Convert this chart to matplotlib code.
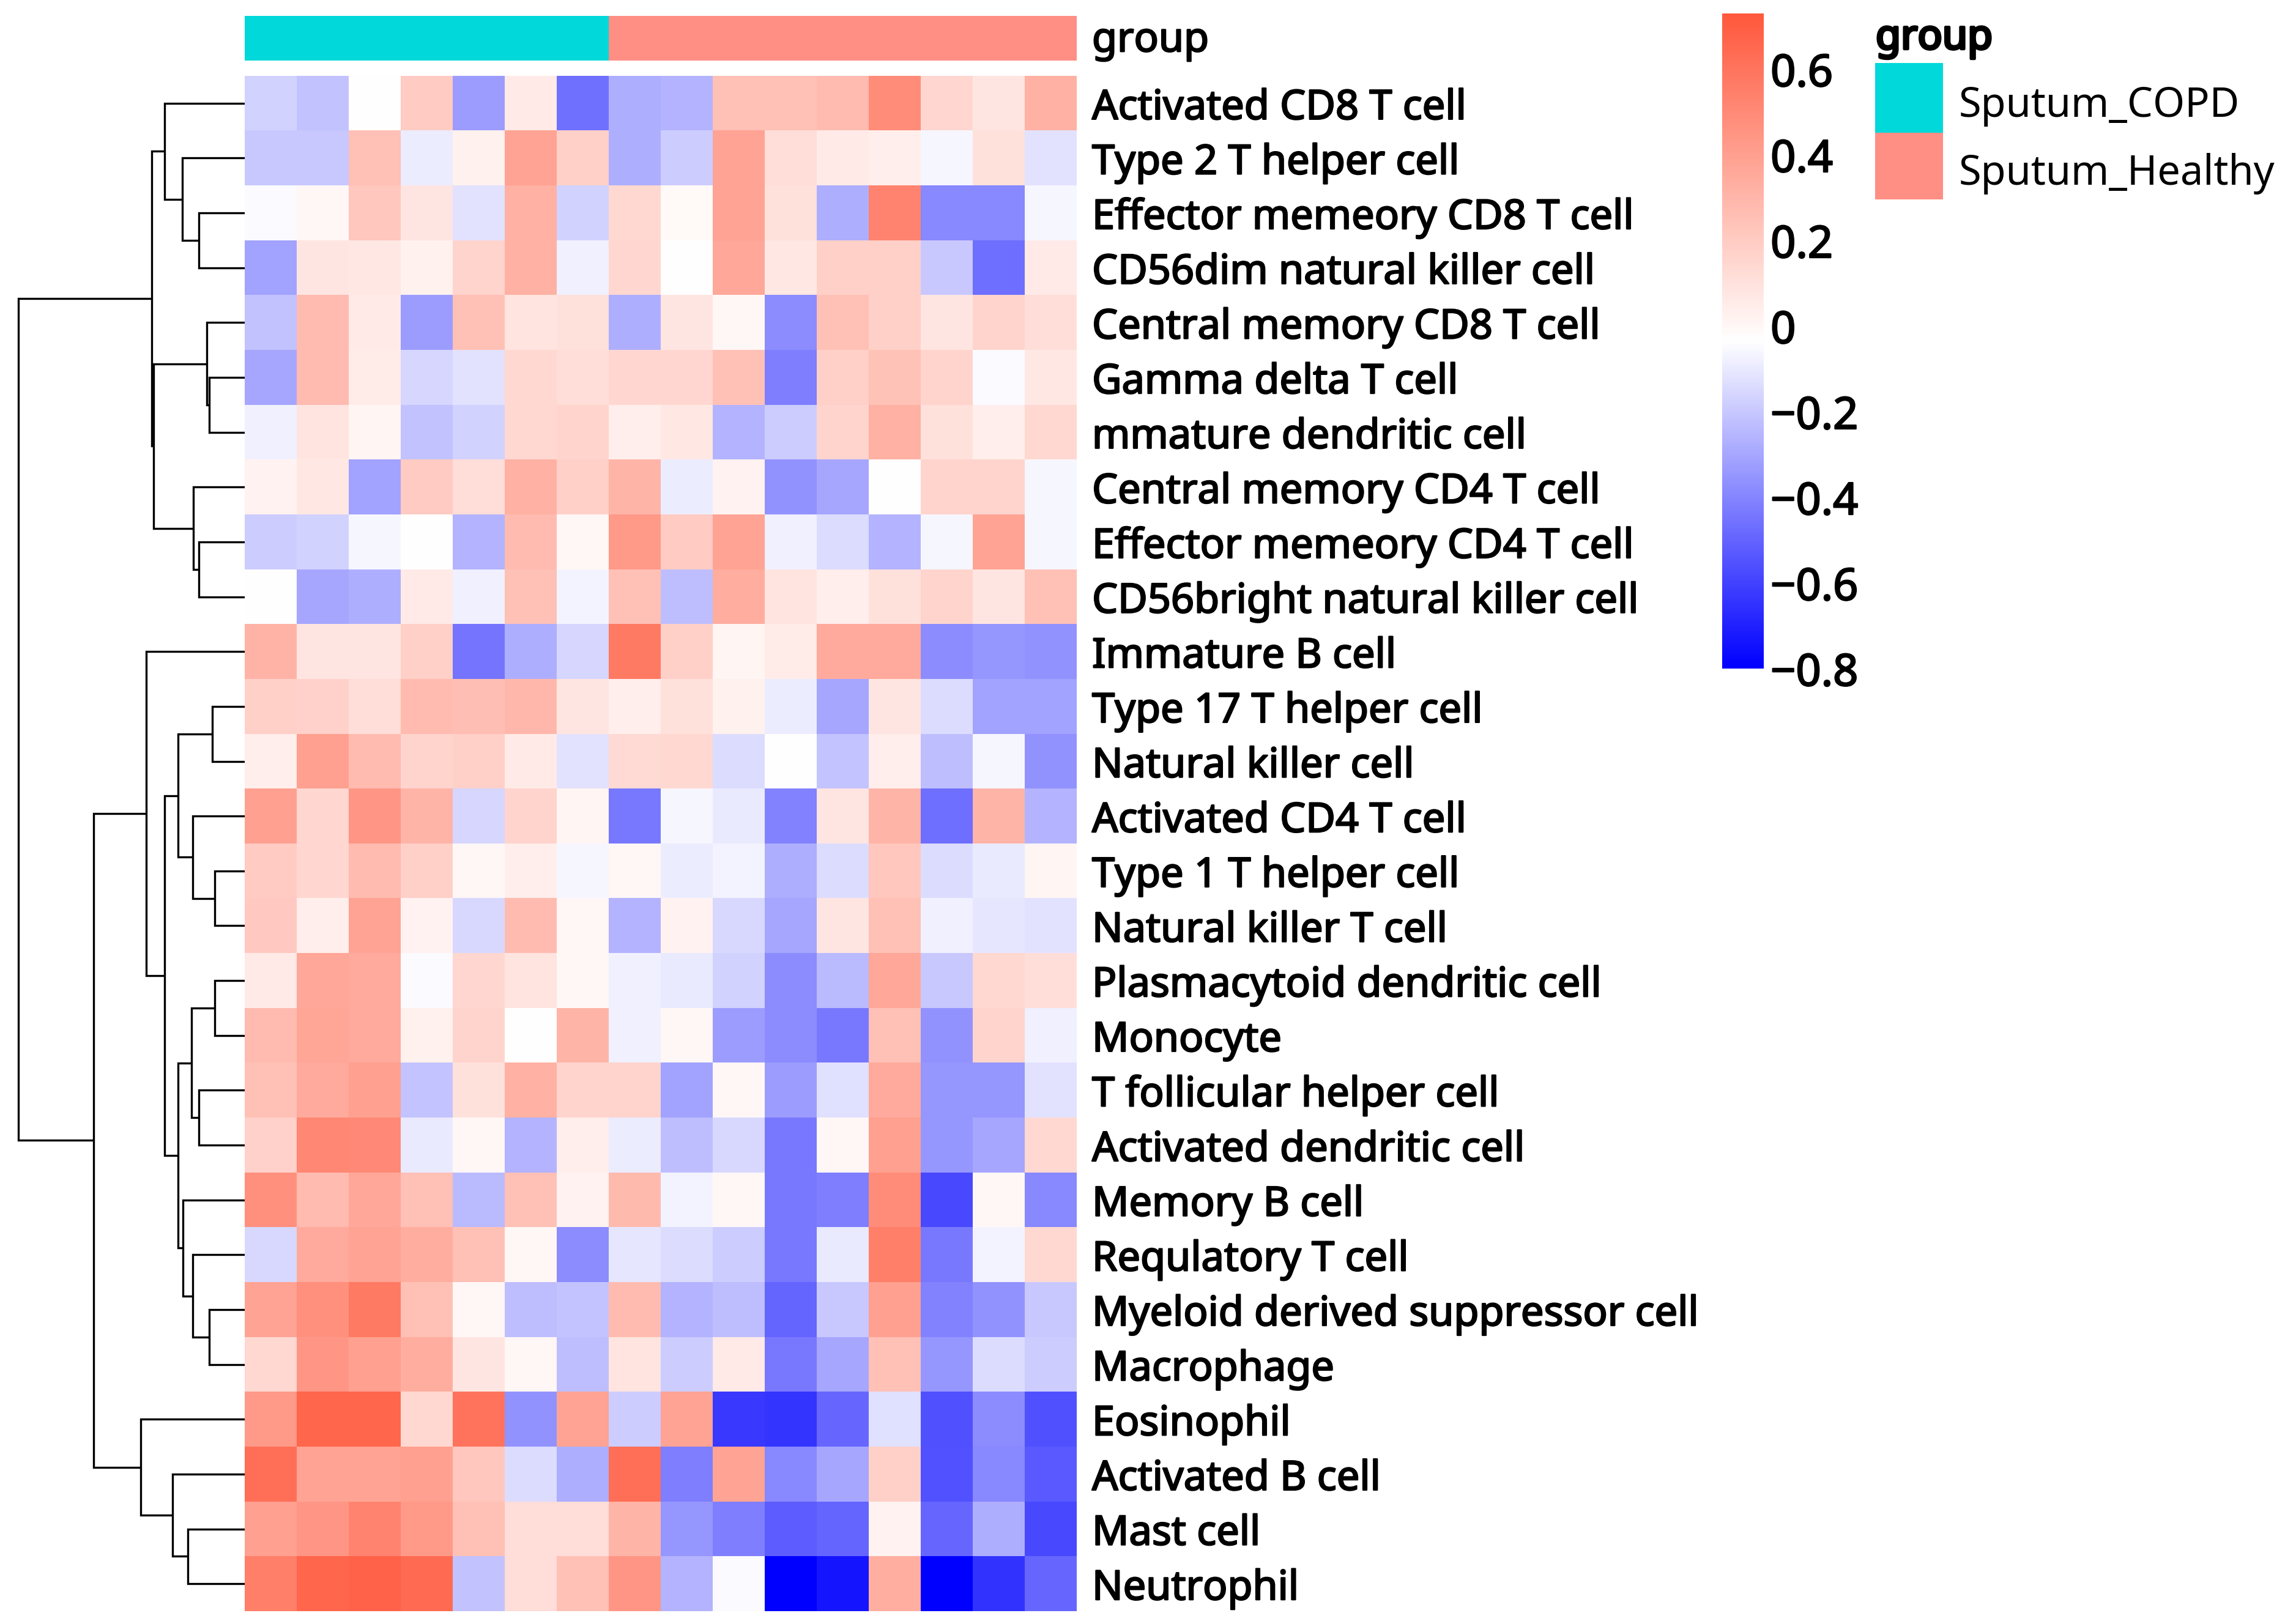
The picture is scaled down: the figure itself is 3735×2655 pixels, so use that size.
import matplotlib
matplotlib.use("Agg")
import matplotlib.pyplot as plt
import matplotlib.patheffects as pe
import numpy as np
from matplotlib.colors import LinearSegmentedColormap, ListedColormap, Normalize
from matplotlib.cm import ScalarMappable
from matplotlib.patches import Rectangle

plt.rcParams['font.family'] = ['Noto Sans', 'DejaVu Sans']

# rows in the order shown (top to bottom)
cell_types = [
    "Activated CD8 T cell", "Type 2 T helper cell", "Effector memeory CD8 T cell",
    "CD56dim natural killer cell", "Central memory CD8 T cell", "Gamma delta T cell",
    "mmature dendritic cell", "Central memory CD4 T cell", "Effector memeory CD4 T cell",
    "CD56bright natural killer cell", "Immature B cell", "Type 17 T helper cell",
    "Natural killer cell", "Activated CD4 T cell", "Type 1 T helper cell",
    "Natural killer T cell", "Plasmacytoid dendritic cell", "Monocyte",
    "T follicular helper cell", "Activated dendritic cell", "Memory B cell",
    "Requlatory T cell", "Myeloid derived suppressor cell", "Macrophage",
    "Eosinophil", "Activated B cell", "Mast cell", "Neutrophil",
]

# sample groups (columns)
groups = ["Sputum_COPD"] * 7 + ["Sputum_Healthy"] * 9
group_names = ["Sputum_COPD", "Sputum_Healthy"]
group_colors = ["#00D8DA", "#FF8E84"]

# scaled scores, one row per cell type, one value per sample
scores = [
    [-0.17, -0.22, -0.04, 0.20, -0.33, 0.06, -0.46, -0.28, -0.26, 0.25, 0.25, 0.27, 0.49, 0.15, 0.08, 0.32],
    [-0.20, -0.20, 0.25, -0.09, 0.03, 0.38, 0.18, -0.28, -0.19, 0.38, 0.12, 0.06, 0.04, -0.06, 0.10, -0.12],
    [-0.05, 0.00, 0.22, 0.08, -0.12, 0.32, -0.17, 0.14, -0.01, 0.38, 0.10, -0.28, 0.53, -0.39, -0.39, -0.06],
    [-0.31, 0.08, 0.07, 0.03, 0.16, 0.32, -0.08, 0.15, -0.04, 0.36, 0.07, 0.18, 0.18, -0.20, -0.47, 0.06],
    [-0.22, 0.27, 0.06, -0.33, 0.25, 0.09, 0.10, -0.28, 0.08, 0.00, -0.38, 0.25, 0.18, 0.08, 0.16, 0.11],
    [-0.30, 0.27, 0.05, -0.16, -0.12, 0.14, 0.11, 0.15, 0.15, 0.25, -0.42, 0.18, 0.24, 0.16, -0.05, 0.07],
    [-0.08, 0.09, 0.01, -0.22, -0.17, 0.14, 0.16, 0.04, 0.07, -0.26, -0.19, 0.16, 0.32, 0.10, 0.04, 0.14],
    [0.02, 0.07, -0.31, 0.20, 0.12, 0.32, 0.18, 0.30, -0.09, 0.02, -0.36, -0.30, -0.04, 0.16, 0.16, -0.06],
    [-0.19, -0.17, -0.06, -0.04, -0.26, 0.27, 0.00, 0.43, 0.20, 0.38, -0.08, -0.14, -0.26, -0.06, 0.38, -0.06],
    [-0.04, -0.30, -0.28, 0.06, -0.08, 0.25, -0.07, 0.25, -0.23, 0.34, 0.09, 0.04, 0.10, 0.16, 0.08, 0.25],
    [0.31, 0.08, 0.08, 0.18, -0.45, -0.28, -0.16, 0.57, 0.18, 0.01, 0.05, 0.35, 0.35, -0.38, -0.35, -0.36],
    [0.18, 0.17, 0.12, 0.27, 0.26, 0.29, 0.08, 0.04, 0.10, 0.03, -0.09, -0.30, 0.08, -0.14, -0.31, -0.31],
    [0.04, 0.40, 0.27, 0.16, 0.18, 0.06, -0.12, 0.13, 0.14, -0.14, -0.04, -0.21, 0.04, -0.23, -0.06, -0.36],
    [0.40, 0.15, 0.44, 0.30, -0.16, 0.16, 0.01, -0.44, -0.06, -0.10, -0.41, 0.08, 0.30, -0.47, 0.30, -0.26],
    [0.20, 0.15, 0.27, 0.18, 0.00, 0.04, -0.06, 0.00, -0.09, -0.07, -0.28, -0.14, 0.22, -0.14, -0.10, 0.01],
    [0.21, 0.04, 0.38, 0.02, -0.15, 0.27, 0.00, -0.26, 0.02, -0.15, -0.30, 0.08, 0.25, -0.08, -0.11, -0.12],
    [0.06, 0.36, 0.35, -0.05, 0.15, 0.09, 0.00, -0.08, -0.10, -0.17, -0.38, -0.24, 0.36, -0.20, 0.14, 0.11],
    [0.27, 0.37, 0.35, 0.03, 0.16, -0.04, 0.30, -0.08, 0.00, -0.33, -0.38, -0.44, 0.25, -0.36, 0.16, -0.08],
    [0.25, 0.35, 0.40, -0.21, 0.10, 0.32, 0.16, 0.16, -0.31, 0.00, -0.33, -0.13, 0.35, -0.35, -0.35, -0.12],
    [0.17, 0.51, 0.50, -0.10, 0.00, -0.26, 0.04, -0.09, -0.23, -0.15, -0.44, 0.00, 0.40, -0.35, -0.30, 0.14],
    [0.47, 0.27, 0.36, 0.25, -0.24, 0.25, 0.02, 0.28, -0.07, 0.00, -0.44, -0.42, 0.49, -0.58, 0.00, -0.39],
    [-0.15, 0.35, 0.38, 0.34, 0.25, 0.00, -0.38, -0.11, -0.14, -0.19, -0.44, -0.10, 0.55, -0.44, -0.07, 0.14],
    [0.38, 0.47, 0.57, 0.25, 0.00, -0.23, -0.21, 0.27, -0.26, -0.23, -0.50, -0.20, 0.40, -0.41, -0.36, -0.20],
    [0.14, 0.44, 0.40, 0.34, 0.08, 0.00, -0.23, 0.09, -0.19, 0.06, -0.44, -0.30, 0.25, -0.35, -0.14, -0.19],
    [0.43, 0.66, 0.66, 0.14, 0.60, -0.36, 0.38, -0.19, 0.38, -0.63, -0.64, -0.49, -0.13, -0.56, -0.38, -0.56],
    [0.62, 0.38, 0.38, 0.40, 0.22, -0.14, -0.28, 0.62, -0.42, 0.38, -0.39, -0.30, 0.18, -0.55, -0.39, -0.53],
    [0.40, 0.44, 0.53, 0.43, 0.25, 0.12, 0.12, 0.30, -0.35, -0.42, -0.52, -0.50, 0.02, -0.49, -0.28, -0.58],
    [0.55, 0.66, 0.68, 0.64, -0.22, 0.12, 0.25, 0.44, -0.26, -0.05, -0.80, -0.74, 0.33, -0.80, -0.65, -0.49],
]

# row clustering: (left, right, height); leaves are row indices, new nodes get 28, 29, ...
merges = [
    (2, 3, 75), (1, 28, 102), (0, 29, 131),
    (5, 6, 58), (4, 31, 62), (8, 9, 75), (7, 33, 84), (32, 34, 149), (30, 35, 152),
    (11, 12, 53), (14, 15, 49), (13, 38, 85), (37, 39, 109),
    (16, 17, 49), (18, 19, 75), (41, 42, 87),
    (22, 23, 58), (21, 44, 85), (20, 45, 101), (43, 46, 109),
    (40, 47, 131), (10, 48, 161),
    (26, 27, 93), (25, 50, 118), (24, 51, 170),
    (49, 52, 247), (36, 53, 370),
]

cbar_ticks = [0.6, 0.4, 0.2, 0, -0.2, -0.4, -0.6, -0.8]
cbar_labels = ["0.6", "0.4", "0.2", "0", "\u22120.2", "\u22120.4", "\u22120.6", "\u22120.8"]

W, H = 3735, 2655


def box(x0, y0, x1, y1):
    # pixel box (top-left origin) -> figure fraction rect
    return [x0 / W, 1 - y1 / H, (x1 - x0) / W, (y1 - y0) / H]


# thicken the regular face a little, the original text is medium weight
heavy = [pe.withStroke(linewidth=1.7, foreground='black')]
heavier = [pe.withStroke(linewidth=3.2, foreground='black')]

data = np.array(scores)
n_rows, n_cols = data.shape

cmap = LinearSegmentedColormap.from_list("bwr_custom", ["#0000FF", "#FFFFFF", "#FF583C"])
norm = Normalize(vmin=-0.8, vmax=0.73)

fig = plt.figure(figsize=(W / 100, H / 100), dpi=100)

# heatmap
ax = fig.add_axes(box(400, 124, 1760, 2634))
ax.imshow(data, cmap=cmap, norm=norm, aspect='auto', interpolation='nearest',
          extent=(0, n_cols, n_rows, 0))
ax.set_xlim(0, n_cols)
ax.set_ylim(n_rows, 0)
ax.set_xticks([])
ax.yaxis.tick_right()
ax.set_yticks(np.arange(n_rows) + 0.5)
ax.set_yticklabels(cell_types, fontsize=48)
for t in ax.get_yticklabels():
    t.set_path_effects(heavy)
ax.tick_params(axis='y', length=0, pad=18)
for s in ax.spines.values():
    s.set_visible(False)

# group annotation bar
ax_grp = fig.add_axes(box(400, 26, 1760, 99))
grp_idx = np.array([[group_names.index(g) for g in groups]])
ax_grp.imshow(grp_idx, cmap=ListedColormap(group_colors), aspect='auto',
              interpolation='nearest', extent=(0, n_cols, 1, 0), vmin=0, vmax=1)
ax_grp.set_xticks([])
ax_grp.set_yticks([])
for s in ax_grp.spines.values():
    s.set_visible(False)
ax_grp.text(1 + 25 / 1360, 0.45, "group", transform=ax_grp.transAxes, va='center',
            ha='left', fontsize=48, path_effects=heavy)

# row dendrogram
ax_den = fig.add_axes(box(0, 124, 400, 2634))
pos = {i: (i + 0.5, 0.0) for i in range(n_rows)}
for k, (a, b, h) in enumerate(merges):
    ya, ha = pos[a]
    yb, hb = pos[b]
    ax_den.plot([ha, h, h, hb], [ya, ya, yb, yb], color='black', lw=2.4,
                solid_capstyle='butt', solid_joinstyle='miter')
    pos[n_rows + k] = ((ya + yb) / 2, h)
ax_den.set_xlim(400, 0)
ax_den.set_ylim(n_rows, 0)
ax_den.axis('off')

# colour bar
cax = fig.add_axes(box(2815, 22, 2883, 1093))
cb = fig.colorbar(ScalarMappable(norm=norm, cmap=cmap), cax=cax, ticks=cbar_ticks)
cb.outline.set_visible(False)
cax.set_yticklabels(cbar_labels, fontsize=52)
for t in cax.get_yticklabels():
    t.set_path_effects(heavy)
cax.tick_params(length=0, pad=8)

# group legend
fig.text(3066 / W, 1 - 62 / H, "group", fontsize=48, va='center', ha='left',
         path_effects=heavier)
legend_boxes = [(103, 217), (217, 326)]
for name, col, (y0, y1) in zip(group_names, group_colors, legend_boxes):
    fig.patches.append(Rectangle((3065 / W, 1 - y1 / H), 111 / W, (y1 - y0) / H,
                                 transform=fig.transFigure, facecolor=col, edgecolor='none'))
    fig.text(3202 / W, 1 - ((y0 + y1) / 2 + 13) / H, name, fontsize=48, va='center', ha='left')

fig.savefig("out.png", dpi=100, facecolor='white')
